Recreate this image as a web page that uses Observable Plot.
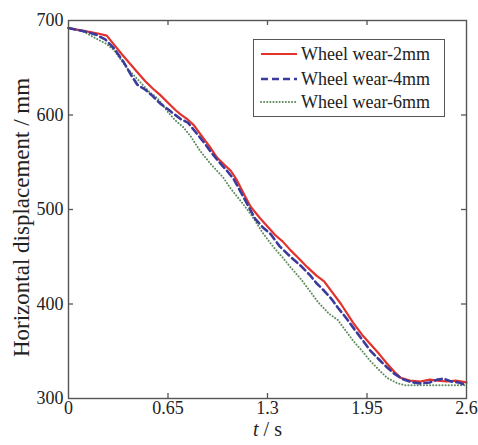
<!DOCTYPE html>
<html>
<head>
<meta charset="utf-8">
<script src="https://cdn.jsdelivr.net/npm/d3@7"></script>
<script src="https://cdn.jsdelivr.net/npm/@observablehq/plot@0.6"></script>
<style>
  html, body { margin: 0; padding: 0; background: #fff; }
  #wrap { position: relative; width: 478px; height: 445px; }
  #wrap svg text { font-family: "Liberation Serif", "Times New Roman", serif; }
  #legend { position: absolute; left: 253px; top: 39px; width: 190px; height: 76px;
    border: 1.3px solid #555; background: #fff; font-family: "Liberation Serif", "Times New Roman", serif; font-size: 18px; color: #222; }
  #legend .row { position: absolute; left: 0; height: 22px; display: flex; align-items: center; }
  #legend svg { margin-left: 6px; margin-right: 3px; }
</style>
</head>
<body>
<div id="wrap"><div id="legend"></div></div>
<script>
// Series names and styles
const seriesNames = ["Wheel wear-2mm", "Wheel wear-4mm", "Wheel wear-6mm"];
const seriesColors = ["#e3322b", "#3b3b9e", "#5c8a5c"];

// Wheel wear 2 mm
const t2 = [0, 0.1, 0.2, 0.25, 0.3, 0.35, 0.43, 0.5, 0.55, 0.6, 0.65, 0.7, 0.73, 0.78, 0.82, 0.86, 0.92, 0.97, 1.02, 1.06, 1.1, 1.15, 1.19, 1.25, 1.3, 1.35, 1.4, 1.45, 1.5, 1.56, 1.62, 1.67, 1.72, 1.78, 1.86, 1.92, 1.97, 2.03, 2.08, 2.13, 2.17, 2.23, 2.3, 2.36, 2.41, 2.47, 2.53, 2.6];
const v2 = [692, 689, 686, 684, 674, 664, 649, 636, 628, 621, 613, 605, 601, 595, 589, 580, 567, 555, 547, 541, 531, 515, 503, 491, 482, 473, 466, 457, 449, 439, 430, 424, 413, 400, 380, 367, 358, 347, 337, 328, 322, 319, 318, 320, 319, 318, 319, 317];

// Wheel wear 4 mm
const t4 = [0, 0.06, 0.12, 0.18, 0.24, 0.3, 0.36, 0.41, 0.45, 0.5, 0.55, 0.6, 0.65, 0.73, 0.78, 0.83, 0.88, 0.93, 0.98, 1.03, 1.08, 1.13, 1.18, 1.22, 1.27, 1.32, 1.38, 1.45, 1.52, 1.58, 1.62, 1.67, 1.72, 1.76, 1.81, 1.86, 1.92, 1.97, 2.03, 2.08, 2.13, 2.19, 2.25, 2.3, 2.36, 2.41, 2.45, 2.5, 2.55, 2.6];
const v4 = [692, 690, 688, 685, 680, 670, 656, 642, 632, 627, 620, 612, 606, 596, 592, 582, 572, 561, 551, 542, 532, 517, 502, 490, 481, 474, 461, 450, 440, 430, 422, 414, 405, 396, 386, 375, 362, 351, 341, 333, 326, 320, 317, 316, 317, 320, 321, 318, 317, 314];

// Wheel wear 6 mm
const t6 = [0, 0.1, 0.18, 0.25, 0.3, 0.38, 0.45, 0.53, 0.58, 0.65, 0.7, 0.75, 0.8, 0.86, 0.93, 1.01, 1.06, 1.12, 1.2, 1.27, 1.34, 1.4, 1.45, 1.52, 1.58, 1.63, 1.7, 1.76, 1.81, 1.86, 1.92, 1.97, 2.03, 2.08, 2.15, 2.2, 2.3, 2.4, 2.5, 2.6];
const v6 = [692, 688, 681, 675, 668, 650, 638, 624, 618, 603, 594, 587, 577, 562, 548, 534, 522, 510, 493, 475, 460, 449, 439, 426, 413, 402, 390, 383, 372, 361, 350, 340, 330, 322, 316, 314, 314, 314, 314, 314];

// Axis ticks
const xTicks = [0, 0.65, 1.3, 1.95, 2.6];
const yTicks = [300, 400, 500, 600, 700];
const xInner = [0.65, 1.3, 1.95];
const yInner = [400, 500, 600];

const toRows = (ts, vs, name) => ts.map((t, i) => ({t, v: vs[i], name}));
const d2 = toRows(t2, v2, seriesNames[0]);
const d4 = toRows(t4, v4, seriesNames[1]);
const d6 = toRows(t6, v6, seriesNames[2]);

const W = 478, H = 445;
const mL = 68, mR = 12, mT = 20, mB = 47;
const ph = H - mT - mB, pw = W - mL - mR;
const font = '"Liberation Serif", "Times New Roman", serif';

const chart = Plot.plot({
  width: W, height: H,
  marginLeft: mL, marginRight: mR, marginTop: mT, marginBottom: mB,
  style: {fontFamily: font, fontSize: "18px", color: "#222", background: "#fff"},
  x: {domain: [0, 2.6]},
  y: {domain: [300, 700]},
  marks: [
    Plot.line(d6, {x: "t", y: "v", stroke: seriesColors[2], strokeWidth: 2, strokeDasharray: "0.1,3", strokeLinecap: "round"}),
    Plot.line(d2, {x: "t", y: "v", stroke: seriesColors[0], strokeWidth: 2.2}),
    Plot.line(d4, {x: "t", y: "v", stroke: seriesColors[1], strokeWidth: 2.6, strokeDasharray: "7,4"}),
    // inner ticks
    Plot.ruleX(xInner, {x: d => d, stroke: "#555", strokeWidth: 1.3, insetTop: ph - 5}),
    Plot.ruleX(xInner, {x: d => d, stroke: "#555", strokeWidth: 1.3, insetBottom: ph - 5}),
    Plot.ruleY(yInner, {y: d => d, stroke: "#555", strokeWidth: 1.3, insetRight: pw - 5}),
    Plot.ruleY(yInner, {y: d => d, stroke: "#555", strokeWidth: 1.3, insetLeft: pw - 5}),
    Plot.frame({stroke: "#555", strokeWidth: 1.4}),
    Plot.axisX(xTicks, {tickSize: 0, tickPadding: 3, fontSize: 18, tickFormat: d => String(d), label: null}),
    Plot.axisY(yTicks, {tickSize: 0, tickPadding: 5, fontSize: 18, tickFormat: d => String(d), label: null}),
    Plot.text([seriesNames[0]], {frameAnchor: "bottom", dy: 37, text: () => "t / s", fontSize: 20, fill: "#222"}),
    Plot.text([seriesNames[0]], {frameAnchor: "left", textAnchor: "middle", rotate: -90, dx: -47, dy: 8, text: () => "Horizontal displacement / mm", fontSize: 23, fill: "#222", letterSpacing: 1})
  ]
});

// italicize 't' in the x label
chart.querySelectorAll("text").forEach(el => {
  if (el.textContent === "t / s") {
    el.textContent = "";
    const ns = "http://www.w3.org/2000/svg";
    const a = document.createElementNS(ns, "tspan"); a.setAttribute("font-style", "italic"); a.textContent = "t";
    const b = document.createElementNS(ns, "tspan"); b.textContent = " / s";
    el.appendChild(a); el.appendChild(b);
  }
});

const wrap = document.getElementById("wrap");
wrap.insertBefore(chart, wrap.firstChild);

// legend
const legend = document.getElementById("legend");
const dashes = [null, "7,4", "0.1,3"];
const widths = [2.2, 2.6, 2];
const rowTops = [3, 28, 51];
seriesNames.forEach((name, i) => {
  const row = document.createElement("div");
  row.className = "row";
  row.style.top = rowTops[i] + "px";
  row.innerHTML = `<svg width="38" height="10"><line x1="1" x2="37" y1="5" y2="5" stroke="${seriesColors[i]}" stroke-width="${widths[i]}" ${dashes[i] ? `stroke-dasharray="${dashes[i]}"` : ""} ${i === 2 ? 'stroke-linecap="round"' : ""}/></svg><span>${name}</span>`;
  legend.appendChild(row);
});
</script>
</body>
</html>
